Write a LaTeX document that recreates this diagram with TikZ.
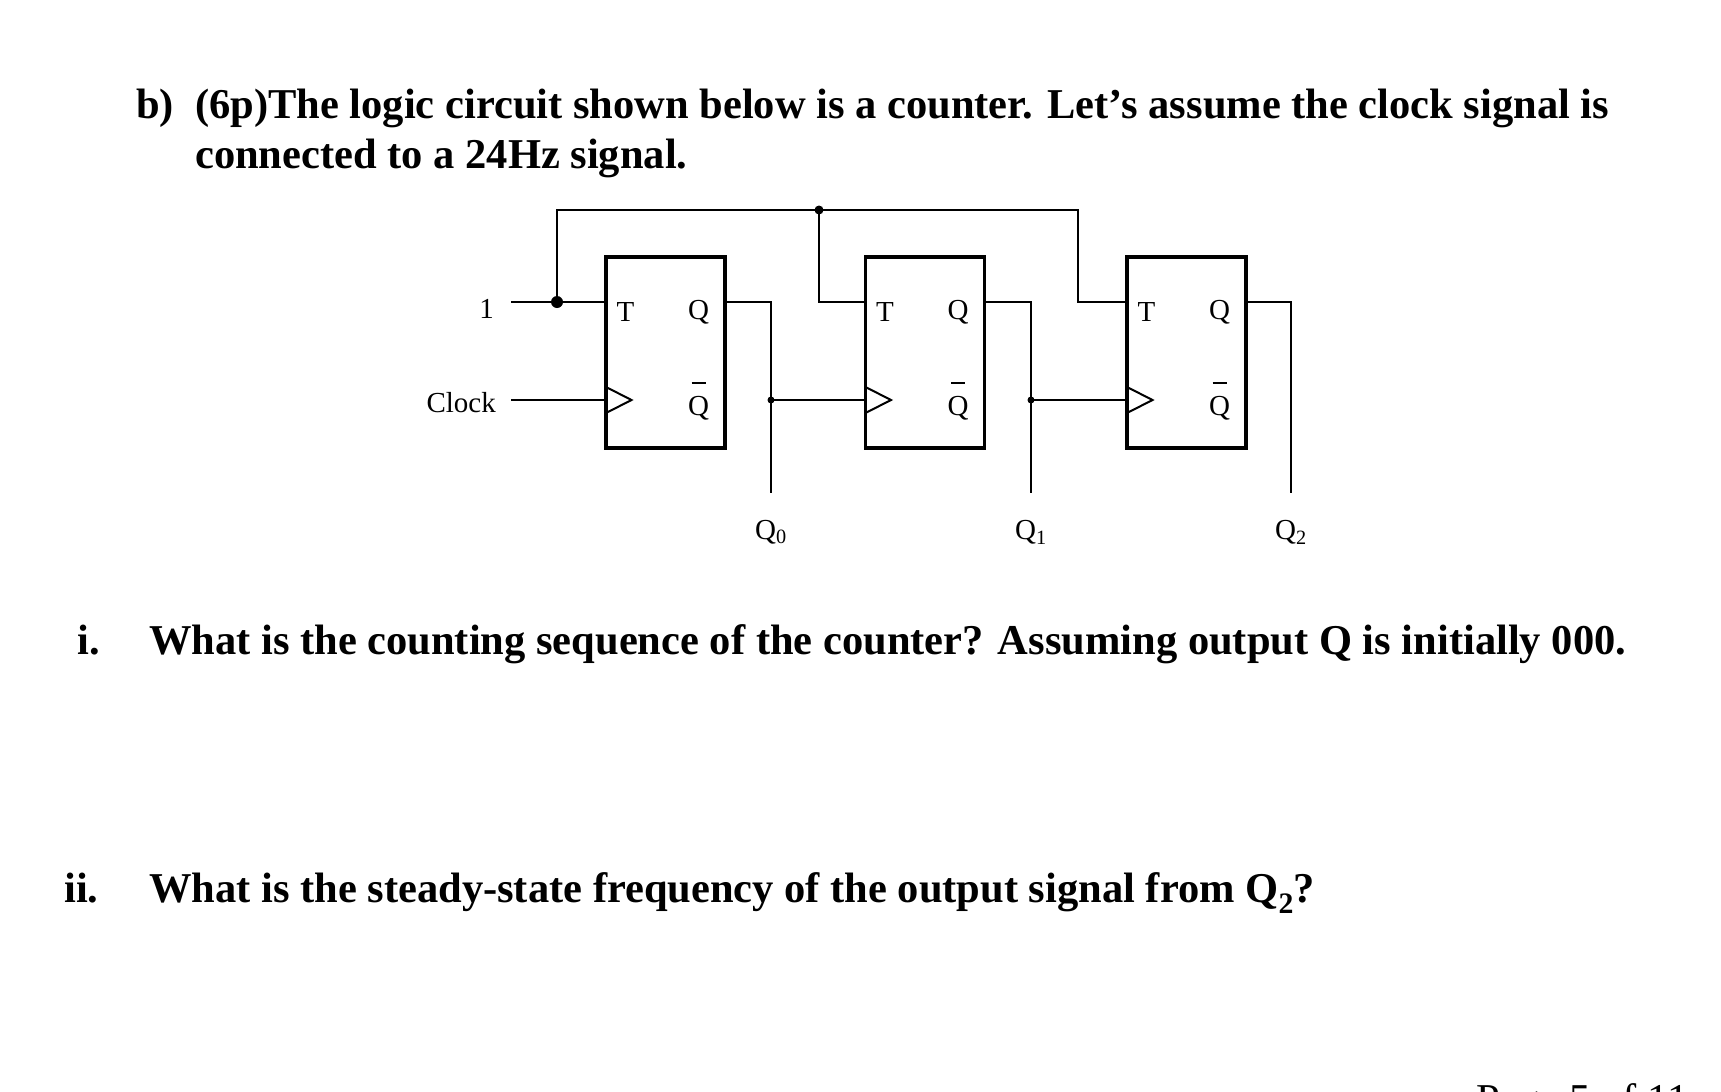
\documentclass[tikz,border=0pt]{standalone}
\usepackage{fontspec}
\setmainfont{Liberation Serif}
\begin{document}
\begin{tikzpicture}[x=1pt,y=-1pt,
  wire/.style={line width=2pt},
  ff/.style={draw,line width=3.5pt,minimum width=119pt,minimum height=191pt,inner sep=0pt},
  lbl/.style={font=\fontsize{29}{30}\selectfont,inner sep=0pt},
  big/.style={font=\bfseries\fontsize{42.5}{48}\selectfont,anchor=base west,inner sep=0pt},
  dot/.style={circle,fill,inner sep=0pt,minimum size=12pt}]
\useasboundingbox (0,0) rectangle (1721,1092);
\node[big] at (136,118) {b)};
\node[big] at (195,118) {(6p)The logic circuit shown below is a counter. Let’s assume the clock signal is};
\node[big] at (195,168) {connected to a 24Hz signal.};
\node[big] at (77,654) {i.};
\node[big] at (149,654) {What is the counting sequence of the counter? Assuming output Q is initially 000.};
\node[big] at (64,902) {ii.};
\node[big] at (149,902) {What is the steady-state frequency of the output signal from Q\textsubscript{2}?};
\node[font=\fontsize{42.5}{48}\selectfont,anchor=base west,inner sep=0pt] at (1476,1113) {Page 5 of 11};
\begin{scope}[xshift=-3pt]
\foreach \n/\x in {1/668.5,2/928,3/1189.5}{
  \node[ff] (f\n) at (\x,352.5) {};
  \node[lbl] at (\x-40,312) {T};
  \node[lbl] at (\x+33,312) {Q};
  \node[lbl] at (\x+33,408) {Q};
  \draw[line width=2.2pt] (\x+26,383) -- (\x+40,383);
  \draw[line width=2pt] (\x-59.5,387) -- (\x-34,400) -- (\x-59.5,413);
}
\node[lbl,anchor=east] (one) at (497,309) {1};
\node[lbl,anchor=east] (clk) at (499,403) {Clock};
\coordinate (a) at (560,302);
\coordinate (b) at (822,210);
\node[dot] at (a) {};
\node[dot,minimum size=9pt] at (b) {};
\draw[wire] (514,302) -- (f1.west |- a);
\draw[wire] (a) -- (560,210) -- (1081,210) -- (1081,302) -- (f3.west |- a);
\draw[wire] (b) -- (822,302) -- (f2.west |- a);
\draw[wire] (514,400) -- (610,400);
\foreach \n/\x/\t in {1/774/0,2/1034/1,3/1294/2}{
  \draw[wire] (f\n.east |- a) -- (\x,302) -- (\x,493);
  \node[lbl] at (\x,532) {Q\textsubscript{\t}};
}
\node[dot,minimum size=7pt] at (774,400) {};
\node[dot,minimum size=7pt] at (1034,400) {};
\draw[wire] (774,400) -- (869,400);
\draw[wire] (1034,400) -- (1130,400);
\end{scope}
\end{tikzpicture}
\end{document}
